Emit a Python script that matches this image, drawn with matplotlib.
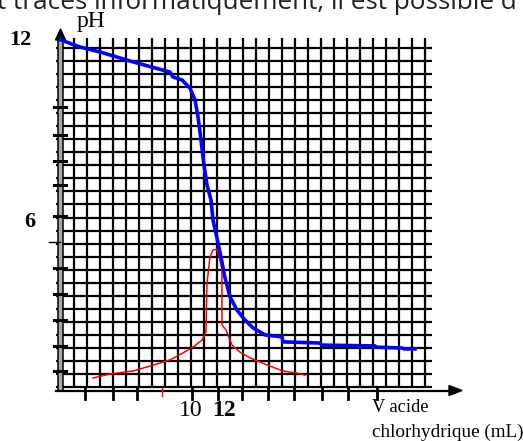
import numpy as np
import matplotlib
matplotlib.use("Agg")
import matplotlib.pyplot as plt
from matplotlib.patches import Polygon

# ---- data (V in mL, pH) ----
v_ph = [0.0, 1.46, 3.0, 5.54, 8.38, 8.62, 9.31, 9.92, 10.31, 10.54, 10.77, 11.0,
        11.23, 11.54, 11.69, 12.08, 12.38, 12.62, 13.0, 13.54, 14.15, 14.77, 15.69,
        17.0, 17.08, 19.92, 20.08, 24.15, 24.23, 26.23, 26.38, 27.23]
ph = [12.0, 11.76, 11.59, 11.25, 10.90, 10.73, 10.63, 10.35, 9.94, 9.36, 8.57, 7.71,
      7.03, 6.51, 5.83, 5.04, 4.39, 3.84, 3.19, 2.74, 2.40, 2.13, 1.89,
      1.82, 1.65, 1.61, 1.54, 1.51, 1.47, 1.44, 1.41, 1.41]

v_deriv = [2.46, 3.77, 5.54, 6.85, 8.38, 9.38, 10.15, 10.85, 11.15, 11.23, 11.46,
           11.69, 12.0, 12.23, 12.38, 12.38, 12.69, 12.85, 13.15, 13.77, 14.54,
           15.85, 17.08, 18.15, 18.77]
deriv = [0.41, 0.55, 0.65, 0.82, 1.03, 1.27, 1.47, 1.71, 1.99, 3.67, 4.56,
         4.80, 4.83, 4.46, 4.11, 2.23, 2.06, 1.89, 1.54, 1.30, 1.10,
         0.86, 0.65, 0.58, 0.51]

x_ticks = [1.85, 4.0, 5.85, 10.08, 12.08, 13.92, 15.92, 17.92, 20.08, 22.08, 24.31]
x_tick_red = [7.77]
y_ticks = [9.70, 8.74, 7.85, 7.03, 5.97, 4.18, 3.29, 2.40, 1.51, 0.65]
y_tick_thin = [5.07]
x_labels = {10: "10", 12: "12"}
y_labels = {12: "12", 6: "6"}

# ---- figure: axes covers whole canvas, 13 px per mL, 29.17 px per pH ----
W, H = 523, 441
fig = plt.figure(figsize=(W / 100, H / 100), dpi=100)
ax = fig.add_axes([0, 0, 1, 1])
px_v = 13.0
px_ph = 350 / 12
x0, y0 = 61, 390
ax.set_xlim(-x0 / px_v, (W - x0) / px_v)
ax.set_ylim((y0 - H) / px_ph, y0 / px_ph)
ax.axis("off")

def V(px):
    return (px - x0) / px_v

def P(py):
    return (y0 - py) / px_ph

# grid
grid_kw = dict(color="black", lw=1.6, solid_capstyle="butt", zorder=1)
for k in range(29):
    ax.plot([k, k], [P(388), P(38)], **grid_kw)
for k in range(27):
    yy = P(48 + 13.04 * k)
    ax.plot([V(56), V(432)], [yy, yy], **grid_kw)

# y axis (grey band with dark edges) + arrow
ax.plot([V(60.5), V(60.5)], [P(391), P(40)], color="#a8a8a8", lw=3.4,
        solid_capstyle="butt", zorder=2)
for xe in (58.4, 62.6):
    ax.plot([V(xe), V(xe)], [P(391), P(40)], color="black", lw=1.1, zorder=2)
ax.add_patch(Polygon([[V(55.5), P(40)], [V(65.5), P(40)], [V(60.5), P(29)]],
                     closed=True, color="black", zorder=3))
# x axis + arrow
ax.plot([V(56), V(452)], [P(390.5), P(390.5)], color="black", lw=1.6, zorder=2)
ax.add_patch(Polygon([[V(449), P(385.5)], [V(449), P(395.5)], [V(462), P(390.5)]],
                     closed=True, color="black", zorder=3))

# ticks
for t in x_ticks:
    ax.plot([t, t], [P(388), P(399)], color="black", lw=2.0, zorder=3)
for t in x_tick_red:
    ax.plot([t, t], [P(388), P(396)], color="red", lw=1.0, zorder=3)
for t in y_ticks:
    ax.plot([V(54), V(66)], [t, t], color="black", lw=2.2, zorder=3)
for t in y_tick_thin:
    ax.plot([V(49), V(60)], [t, t], color="black", lw=1.0, zorder=3)

# curves
ax.plot(v_deriv, deriv, color="red", lw=1.1, zorder=4)
ax.plot(v_ph, ph, color="#0000ff", lw=2.6, zorder=5, solid_joinstyle="miter")

# text
serif = "Liberation Serif"
ax.text(V(91), P(22), "pH", family=serif, fontsize=17, ha="center", va="center")
ax.text(V(20), 12, y_labels[12], family=serif, fontsize=16, fontweight="bold",
        ha="center", va="center")
ax.text(V(30), P(222), y_labels[6], family=serif, fontsize=16, fontweight="bold",
        ha="center", va="center")
ax.text(10, P(411), x_labels[10], family=serif, fontsize=17, ha="center", va="center")
ax.text(V(224), P(411), x_labels[12], family=serif, fontsize=17, fontweight="bold",
        ha="center", va="center")
ax.text(V(372), P(408), "V acide", family=serif, fontsize=13.2, ha="left", va="center")
ax.text(V(372), P(432), "chlorhydrique (mL)", family=serif, fontsize=13.8,
        ha="left", va="center")
ax.text(V(-3), P(9), "t tracés informatiquement, il est possible d",
        family="Open Sans", fontsize=18.8, ha="left", va="baseline", color="#222222")

fig.savefig("out.png", dpi=100)
